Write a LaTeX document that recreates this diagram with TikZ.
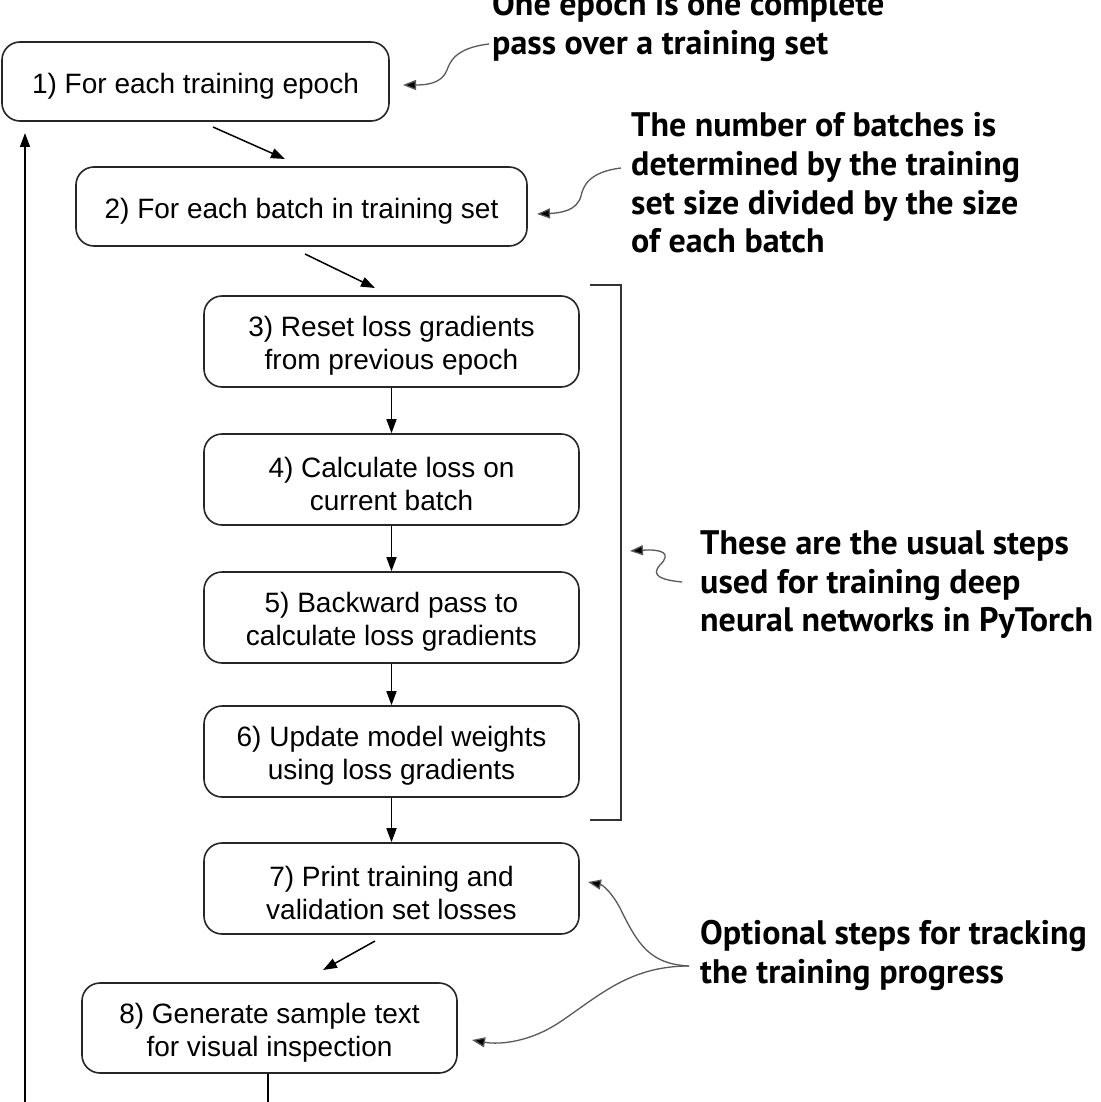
\documentclass[tikz,border=0pt]{standalone}
\usepackage{fontspec}
\setmainfont{Liberation Sans}
\newfontfamily\notefont{PT Sans}
\usetikzlibrary{arrows.meta}
\newcommand\padtop[1]{\raisebox{0pt}[\dimexpr\height+9pt\relax]{#1}}
\begin{document}
\begin{tikzpicture}[x=1pt,y=-1pt,
  stepbox/.style={draw=black!85,line width=1.6pt,rounded corners=18pt,align=center,
    font=\fontsize{28}{33}\selectfont,inner sep=0pt},
  flow/.style={line width=1.5pt,-{Triangle[length=14pt,width=10pt]}},
  note/.style={font=\notefont\bfseries\fontsize{34}{38.6}\selectfont,align=left,anchor=north west,inner sep=0pt},
  callout/.style={draw=black!65,line width=1.3pt,-{Triangle[length=13pt,width=10pt,fill=black]}}]
\useasboundingbox (0,0) rectangle (1100,1102);
\fill[white] (0,0) rectangle (1100,1102);
% boxes
\node[stepbox,minimum width=387pt,minimum height=79pt] (b1) at (195.5,81.5) {\padtop{1) For each training epoch}};
\node[stepbox,minimum width=451pt,minimum height=79pt] (b2) at (301.5,206.5) {\padtop{2) For each batch in training set}};
\node[stepbox,minimum width=375pt,minimum height=91pt] (b3) at (391.5,341.5) {\padtop{3) Reset loss gradients}\\from previous epoch};
\node[stepbox,minimum width=375pt,minimum height=91pt] (b4) at (391.5,479.5) {\padtop{4) Calculate loss on}\\current batch};
\node[stepbox,minimum width=375pt,minimum height=91pt] (b5) at (391.5,617.5) {\padtop{5) Backward pass to}\\calculate loss gradients};
\node[stepbox,minimum width=375pt,minimum height=91pt] (b6) at (391.5,751.5) {\padtop{6) Update model weights}\\using loss gradients};
\node[stepbox,minimum width=375pt,minimum height=91pt] (b7) at (391.5,888.5) {\padtop{7) Print training and}\\validation set losses};
\node[stepbox,minimum width=375pt,minimum height=90pt] (b8) at (269.5,1028) {\padtop{8) Generate sample text}\\for visual inspection};
% flow arrows
\coordinate (a1s) at (213,127); \coordinate (a1e) at (285,159);
\draw[flow] (a1s) -- (a1e);
\coordinate (a2s) at (305,254); \coordinate (a2e) at (375,288);
\draw[flow] (a2s) -- (a2e);
\draw[flow] (b3.south) -- (b4.north);
\draw[flow] (b4.south) -- (b5.north);
\draw[flow] (b5.south) -- (b6.north);
\draw[flow] (b6.south) -- (b7.north);
\coordinate (a7s) at (375,941); \coordinate (a7e) at (323,970);
\draw[flow] (a7s) -- (a7e);
\coordinate (loopL) at (25,1102); \coordinate (loopT) at (25,133);
\draw[flow] (loopL) -- (loopT);
\coordinate (b8out) at (268,1102);
\draw[line width=1.5pt] (b8.south -| b8out) -- (b8out);
% bracket
\coordinate (brT) at (621,285); \coordinate (brB) at (621,820);
\draw[draw=black!80,line width=1.5pt] (590,285) -- (brT) -- (brB) -- (590,820);
% annotation texts
\node[note] (n1) at (492,-9) {One epoch is one complete\\pass over a training set};
\node[note] (n2) at (631,112.5) {The number of batches is\\determined by the training\\set size divided by the size\\of each batch};
\node[note] (n3) at (700,530.5) {These are the usual steps\\used for training deep\\neural networks in PyTorch};
\node[note] (n4) at (700,920.5) {Optional steps for tracking\\the training progress};
% callouts
\coordinate (c1s) at (489,44); \coordinate (c1e) at (403,85);
\draw[callout] (c1s) .. controls (455,48) and (450,62) .. (447,70) .. controls (442,84) and (425,85) .. (c1e);
\coordinate (c2s) at (621,168); \coordinate (c2e) at (537,214);
\draw[callout] (c2s) .. controls (588,172) and (583,187) .. (581,196) .. controls (577,211) and (560,213) .. (c2e);
\coordinate (c3s) at (682,582); \coordinate (c3e) at (630,551);
\draw[callout] (c3s) .. controls (662,580) and (650,576) .. (660,565) .. controls (672,553) and (662,549) .. (c3e);
\coordinate (c4s) at (689,966); \coordinate (c4a) at (588,882); \coordinate (c4b) at (472,1040);
\draw[callout] (c4s) .. controls (650,964) and (638,945) .. (620,908) .. controls (612,893) and (603,885) .. (c4a);
\draw[callout] (c4s) .. controls (630,966) and (600,995) .. (560,1022) .. controls (530,1042) and (500,1045) .. (c4b);
\end{tikzpicture}
\end{document}
